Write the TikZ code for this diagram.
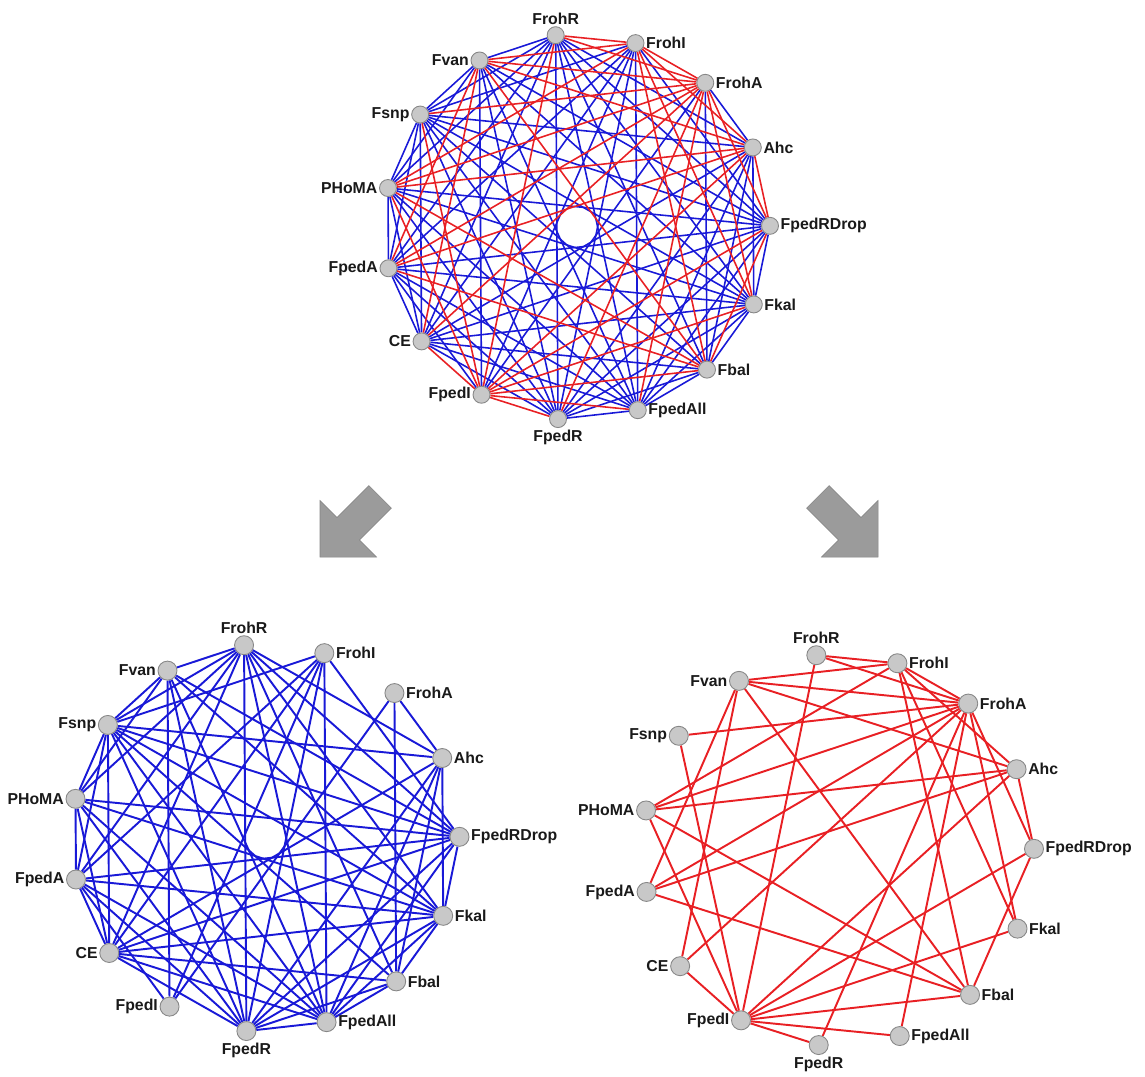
\documentclass[tikz,border=0pt]{standalone}
\usepackage{fontspec}
\setmainfont{Liberation Sans}
\usetikzlibrary{calc}
\definecolor{eblue}{RGB}{25,25,215}
\definecolor{ered}{RGB}{232,32,36}
\definecolor{nfill}{RGB}{200,200,200}
\definecolor{nline}{RGB}{135,135,135}
\definecolor{agray}{RGB}{155,155,155}
\pgfdeclarelayer{bg}
\pgfsetlayers{bg,main}
\def\redlist{FrohR/FrohI, FrohR/FrohA, FrohR/FpedI, FrohI/Fvan, FrohI/PHoMA, FrohI/FrohA, FrohI/Ahc, FrohI/Fbal, FrohI/Fkal, FrohA/Fvan, FrohA/Fsnp, FrohA/PHoMA, FrohA/CE, FrohA/FpedA, FrohA/FpedR, FrohA/FpedAll, FrohA/Fkal, FrohA/FpedRDrop, Ahc/Fvan, Ahc/PHoMA, Ahc/FpedA, Ahc/FpedI, Ahc/FpedRDrop, FpedRDrop/Fbal, FpedRDrop/FpedI, Fkal/FpedI, Fbal/Fvan, Fbal/PHoMA, Fbal/FpedA, Fbal/FpedI, FpedAll/FpedI, FpedR/FpedI, FpedI/CE, FpedI/PHoMA, FpedI/Fsnp, CE/Fvan, Fvan/FpedA}
\def\bluelist{FrohR/Ahc, FrohR/FpedRDrop, FrohR/Fkal, FrohR/Fbal, FrohR/FpedAll, FrohR/FpedR, FrohR/CE, FrohR/FpedA, FrohR/PHoMA, FrohR/Fsnp, FrohR/Fvan, FrohI/FpedRDrop, FrohI/FpedAll, FrohI/FpedR, FrohI/FpedI, FrohI/CE, FrohI/FpedA, FrohI/Fsnp, FrohA/Ahc, FrohA/Fbal, FrohA/FpedI, Ahc/Fkal, Ahc/Fbal, Ahc/FpedAll, Ahc/FpedR, Ahc/CE, Ahc/Fsnp, FpedRDrop/Fkal, FpedRDrop/FpedAll, FpedRDrop/FpedR, FpedRDrop/CE, FpedRDrop/FpedA, FpedRDrop/PHoMA, FpedRDrop/Fsnp, FpedRDrop/Fvan, Fkal/Fbal, Fkal/FpedAll, Fkal/FpedR, Fkal/CE, Fkal/FpedA, Fkal/PHoMA, Fkal/Fsnp, Fkal/Fvan, Fbal/FpedAll, Fbal/FpedR, Fbal/CE, Fbal/Fsnp, FpedAll/FpedR, FpedAll/CE, FpedAll/FpedA, FpedAll/PHoMA, FpedAll/Fsnp, FpedAll/Fvan, FpedR/CE, FpedR/FpedA, FpedR/PHoMA, FpedR/Fsnp, FpedR/Fvan, FpedI/FpedA, FpedI/Fvan, CE/FpedA, CE/PHoMA, CE/Fsnp, FpedA/PHoMA, FpedA/Fsnp, PHoMA/Fsnp, PHoMA/Fvan, Fsnp/Fvan}
\newcommand\placegraph[5]{%
  \foreach \n/\ang/\pos in {FrohR/96/above, FrohI/72/right, FrohA/48/right, Ahc/24/right, FpedRDrop/0/right, Fkal/-24/right, Fbal/-48/right, FpedAll/-72/right, FpedR/-96/below, FpedI/-120/left, CE/-144/left, FpedA/-168/left, PHoMA/168/left, Fsnp/144/left, Fvan/120/left}
    \node[vtx,minimum size=#5,label={[lbl]\pos:\n}] (#1\n) at ({#2+#4*cos(\ang+0.35)},{#3-#4*sin(\ang+0.35)}) {};
}
\begin{document}
\begin{tikzpicture}[x=0.02cm,y=-0.02cm,
  vtx/.style={circle,fill=nfill,draw=nline,line width=0.5pt,inner sep=0pt},
  lbl/.style={font=\bfseries\fontsize{9}{10}\selectfont,text=black!90,inner sep=0.8pt},
  bedge/.style={eblue,line width=1.1pt},
  redge/.style={ered,line width=1.1pt},
  tbedge/.style={eblue,line width=0.9pt},
  tredge/.style={ered,line width=0.9pt},
  bigarrow/.style={fill=agray,draw=agray!85!black,line width=0.3pt}]
\path[use as bounding box] (0,0) rectangle (1145,1076);
% graphs: nodes
\placegraph{T}{577}{227}{193}{0.34cm}
\placegraph{L}{265.5}{838}{194}{0.38cm}
\placegraph{R}{838}{850}{196}{0.38cm}
% edges
\begin{pgfonlayer}{bg}
\foreach \a/\b in \bluelist { \draw[tbedge] (T\a) -- (T\b); }
\foreach \a/\b in \redlist { \draw[tredge] (T\a) -- (T\b); }
\foreach \a/\b in \bluelist { \draw[bedge] (L\a) -- (L\b); }
\foreach \a/\b in \redlist { \draw[redge] (R\a) -- (R\b); }
\end{pgfonlayer}
% big arrows
\fill[bigarrow] (368.8,485.6) -- (337,517.4) -- (320,500.4) -- (320,557) -- (376.6,557) -- (359.6,540) -- (391.4,508.2) -- cycle;
\fill[bigarrow] (829.2,485.6) -- (861,517.4) -- (878,500.4) -- (878,557) -- (821.4,557) -- (838.4,540) -- (806.6,508.2) -- cycle;
\end{tikzpicture}
\end{document}
